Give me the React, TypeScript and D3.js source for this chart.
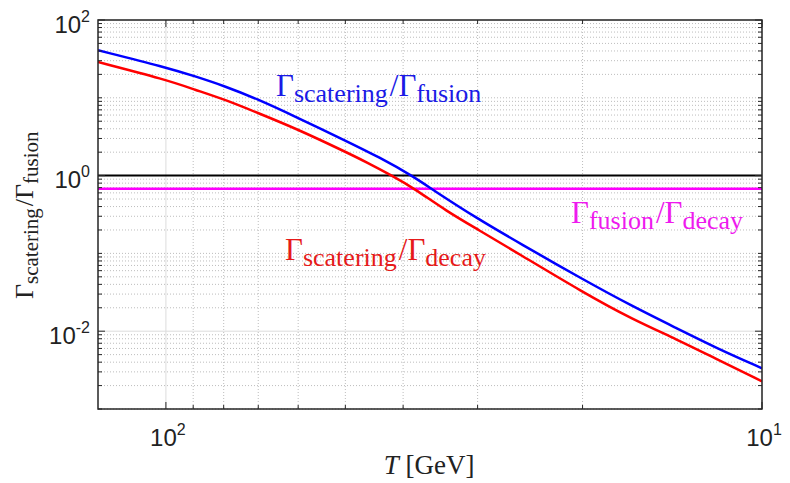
import React from 'react'
import * as d3 from 'd3'

// values (T in GeV, ratios dimensionless)
const blueT = [130, 100, 89.4, 79.6, 70.1, 60.8, 50.5, 43.7, 38.5, 35.7, 30.1, 25.5, 20, 16.5, 13.9, 11.9, 10]
const blueRatio = [40.8, 24.7, 18.9, 14.1, 9.57, 5.78, 2.93, 1.70, 0.98, 0.66, 0.283, 0.135, 0.0465, 0.0209, 0.0109, 0.00603, 0.00334]

const redT = [130, 100, 89.4, 79.6, 70.1, 60.8, 50.5, 46, 41.8, 38.5, 33.8, 30, 25.5, 20, 16.5, 13.9, 11.9, 10]
const redRatio = [28.8, 17.1, 12.7, 9.48, 6.38, 4.09, 2.1, 1.48, 1.0, 0.70, 0.348, 0.204, 0.0973, 0.0318, 0.0142, 0.00787, 0.00436, 0.00227]

const unityLevel = 1
const fusionDecayLevel = 0.68

const xDomain = [130, 10]
const yDomain = [1e-3, 1e2]
const xMajorTicks = [100, 10]
const xTickExp = ['2', '1']
const yMajorTicks = [1e2, 1, 1e-2]
const yTickExp = ['2', '0', '-2']

const W = 790
const H = 483
const margin = { top: 20, right: 28, bottom: 74, left: 98 }

const GAMMA = '\u0393'
const serif = '"Liberation Serif", "Times New Roman", serif'
const sans = '"Liberation Sans", Arial, Helvetica, sans-serif'

const minorTicks = (lo: number, hi: number) => {
  const out: number[] = []
  for (let e = Math.floor(Math.log10(lo)); e <= Math.ceil(Math.log10(hi)); e++) {
    for (let k = 1; k < 10; k++) {
      const v = k * Math.pow(10, e)
      if (v >= lo * 0.9999 && v <= hi * 1.0001) out.push(v)
    }
  }
  return out
}

const RatioLabel = ({ x, y, color, a, b, big = 31, small = 26, shift = 6, rotate = false }: any) => (
  <text
    transform={rotate ? `translate(${x},${y}) rotate(-90)` : `translate(${x},${y})`}
    fill={color}
    fontFamily={serif}
  >
    <tspan fontSize={big}>{GAMMA}</tspan>
    <tspan fontSize={small} dy={shift}>{a}</tspan>
    <tspan fontSize={big} dy={-shift} dx={2}>/</tspan>
    <tspan fontSize={big}>{GAMMA}</tspan>
    <tspan fontSize={small} dy={shift}>{b}</tspan>
  </text>
)

export default function App() {
  const iw = W - margin.left - margin.right
  const ih = H - margin.top - margin.bottom

  const x = d3.scaleLog().domain(xDomain).range([0, iw])
  const y = d3.scaleLog().domain(yDomain).range([ih, 0])

  const xMinor = minorTicks(10, 130).filter(v => !xMajorTicks.includes(v))
  const yMinor = minorTicks(1e-3, 1e2).filter(v => !yMajorTicks.some(m => Math.abs(m - v) / v < 1e-6))

  const line = d3.line<[number, number]>()
    .x(d => x(d[0]))
    .y(d => y(d[1]))
    .curve(d3.curveBasis)

  const blue = blueT.map((t, i) => [t, blueRatio[i]] as [number, number])
  const red = redT.map((t, i) => [t, redRatio[i]] as [number, number])

  const axisColor = '#262626'

  return (
    <svg width={W} height={H} style={{ position: 'absolute', left: 0, top: 0, background: '#fff' }}>
      <defs>
        <clipPath id="plot-clip">
          <rect x={0} y={0} width={iw} height={ih} />
        </clipPath>
      </defs>
      <g transform={`translate(${margin.left},${margin.top})`}>
        {/* minor grid */}
        {xMinor.map(v => (
          <line key={'gx' + v} x1={x(v)} x2={x(v)} y1={0} y2={ih} stroke="#b5b5b5" strokeWidth={0.9} strokeDasharray="1,2" />
        ))}
        {yMinor.map(v => (
          <line key={'gy' + v} x1={0} x2={iw} y1={y(v)} y2={y(v)} stroke="#b5b5b5" strokeWidth={0.9} strokeDasharray="1,2" />
        ))}
        {/* major grid */}
        {xMajorTicks.map(v => (
          <line key={'Gx' + v} x1={x(v)} x2={x(v)} y1={0} y2={ih} stroke="#dcdcdc" strokeWidth={1} />
        ))}
        {yMajorTicks.map(v => (
          <line key={'Gy' + v} x1={0} x2={iw} y1={y(v)} y2={y(v)} stroke="#dcdcdc" strokeWidth={1} />
        ))}

        <g clipPath="url(#plot-clip)">
          <line x1={0} x2={iw} y1={y(unityLevel)} y2={y(unityLevel)} stroke="#000" strokeWidth={2} />
          <line x1={0} x2={iw} y1={y(fusionDecayLevel)} y2={y(fusionDecayLevel)} stroke="#ff00ff" strokeWidth={2.5} />
          <path d={line(red) || ''} fill="none" stroke="#ff0000" strokeWidth={2.5} />
          <path d={line(blue) || ''} fill="none" stroke="#0000ff" strokeWidth={2.5} />
        </g>

        {/* ticks on all four sides */}
        {xMinor.map(v => (
          <g key={'tx' + v}>
            <line x1={x(v)} x2={x(v)} y1={ih} y2={ih - 4} stroke={axisColor} />
            <line x1={x(v)} x2={x(v)} y1={0} y2={4} stroke={axisColor} />
          </g>
        ))}
        {xMajorTicks.map(v => (
          <g key={'TX' + v}>
            <line x1={x(v)} x2={x(v)} y1={ih} y2={ih - 7} stroke={axisColor} />
            <line x1={x(v)} x2={x(v)} y1={0} y2={7} stroke={axisColor} />
          </g>
        ))}
        {yMinor.map(v => (
          <g key={'ty' + v}>
            <line x1={0} x2={4} y1={y(v)} y2={y(v)} stroke={axisColor} />
            <line x1={iw} x2={iw - 4} y1={y(v)} y2={y(v)} stroke={axisColor} />
          </g>
        ))}
        {yMajorTicks.map(v => (
          <g key={'TY' + v}>
            <line x1={0} x2={7} y1={y(v)} y2={y(v)} stroke={axisColor} />
            <line x1={iw} x2={iw - 7} y1={y(v)} y2={y(v)} stroke={axisColor} />
          </g>
        ))}

        <rect x={0} y={0} width={iw} height={ih} fill="none" stroke={axisColor} strokeWidth={1.5} />

        {/* tick labels */}
        {yMajorTicks.map((v, i) => (
          <text key={'ly' + v} x={-8} y={y(v) + 12.5} textAnchor="end" fontFamily={sans} fontSize={24} fill="#222">
            10<tspan fontSize={16} dy={-11}>{yTickExp[i]}</tspan>
          </text>
        ))}
        {xMajorTicks.map((v, i) => (
          <text key={'lx' + v} x={x(v) + 2} y={ih + 37} textAnchor="middle" fontFamily={sans} fontSize={24} fill="#222">
            10<tspan fontSize={16} dy={-11}>{xTickExp[i]}</tspan>
          </text>
        ))}
      </g>

      {/* axis titles */}
      <text x={429} y={474} textAnchor="middle" fontFamily={serif} fontSize={27} fill="#222">
        <tspan fontStyle="italic">T</tspan> [GeV]
      </text>
      <RatioLabel x={33} y={299} color="#222" a="scatering" b="fusion" big={26} small={21} shift={5} rotate />

      {/* curve labels */}
      <RatioLabel x={276} y={96} color="#1a1ae6" a="scatering" b="fusion" />
      <RatioLabel x={285} y={260} color="#e61a1a" a="scatering" b="decay" />
      <RatioLabel x={571} y={223} color="#ee1aee" a="fusion" b="decay" />
    </svg>
  )
}
